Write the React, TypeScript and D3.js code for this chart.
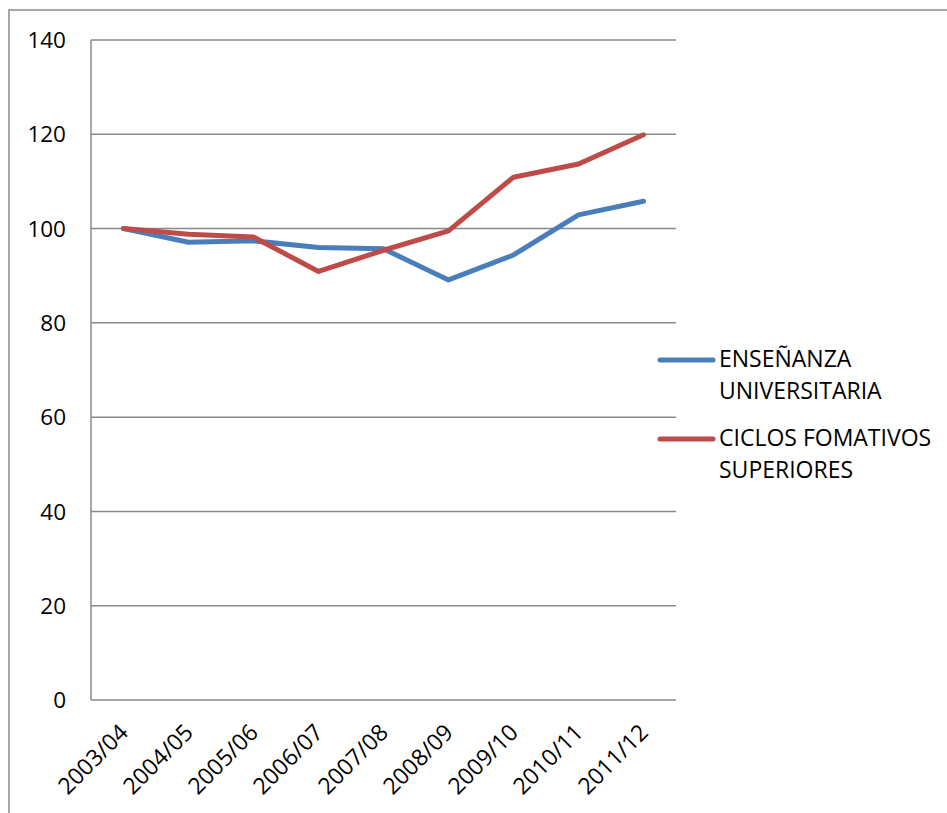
import React from "react";
import * as d3 from "d3";

const categories = ["2003/04", "2004/05", "2005/06", "2006/07", "2007/08", "2008/09", "2009/10", "2010/11", "2011/12"];
const universitaria = [100, 97.1, 97.4, 96.0, 95.7, 89.1, 94.4, 102.9, 105.8];
const ciclos = [100, 98.8, 98.2, 90.9, 95.4, 99.5, 110.9, 113.7, 119.9];
const yTicks = [0, 20, 40, 60, 80, 100, 120, 140];
const seriesNames = [["ENSEÑANZA", "UNIVERSITARIA"], ["CICLOS FOMATIVOS", "SUPERIORES"]];
const seriesColors = ["#4a7ebb", "#be4b48"];

const W = 947, H = 813;
const plot = { left: 91, right: 676, top: 40, bottom: 700 };
const FONT = "'Open Sans', sans-serif";

export default function App() {
  const x = d3.scaleBand<string>().domain(categories).range([plot.left, plot.right]);
  const y = d3.scaleLinear().domain([0, 140]).range([plot.bottom, plot.top]);
  const line = d3
    .line<number>()
    .x((_, i) => (x(categories[i]) as number) + x.bandwidth() / 2)
    .y((d) => y(d));
  const series = [universitaria, ciclos];
  const legendY = [360, 439];

  return (
    <svg width={W} height={H} style={{ position: "absolute", left: 0, top: 0, background: "#fff" }} fontFamily={FONT}>
      <rect x={9} y={10} width={1200} height={1200} fill="#fff" stroke="#898989" strokeWidth={1.5} />
      {yTicks.map((t) => (
        <g key={t}>
          <line x1={plot.left} x2={plot.right} y1={y(t)} y2={y(t)} stroke="#898989" strokeWidth={1.5} />
          <text x={66} y={y(t)} dy="0.36em" textAnchor="end" fontSize={22.5} fill="#000">
            {t}
          </text>
        </g>
      ))}
      <line x1={plot.left} x2={plot.left} y1={plot.top} y2={plot.bottom} stroke="#898989" strokeWidth={1.5} />
      {categories.map((c) => {
        const cx = (x(c) as number) + x.bandwidth() / 2;
        return (
          <text
            key={c}
            transform={`translate(${cx + 6},${plot.bottom + 34}) rotate(-45)`}
            textAnchor="end"
            fontSize={23}
            fill="#000"
          >
            {c}
          </text>
        );
      })}
      {series.map((s, i) => (
        <path key={i} d={line(s) || ""} fill="none" stroke={seriesColors[i]} strokeWidth={5} strokeLinejoin="round" strokeLinecap="round" />
      ))}
      {seriesNames.map((names, i) => (
        <g key={i}>
          <line x1={660} x2={713} y1={legendY[i]} y2={legendY[i]} stroke={seriesColors[i]} strokeWidth={5} strokeLinecap="round" />
          {names.map((n, j) => (
            <text key={j} x={719} y={legendY[i] + 7 + j * 32} fontSize={23} fill="#000">
              {n}
            </text>
          ))}
        </g>
      ))}
    </svg>
  );
}
